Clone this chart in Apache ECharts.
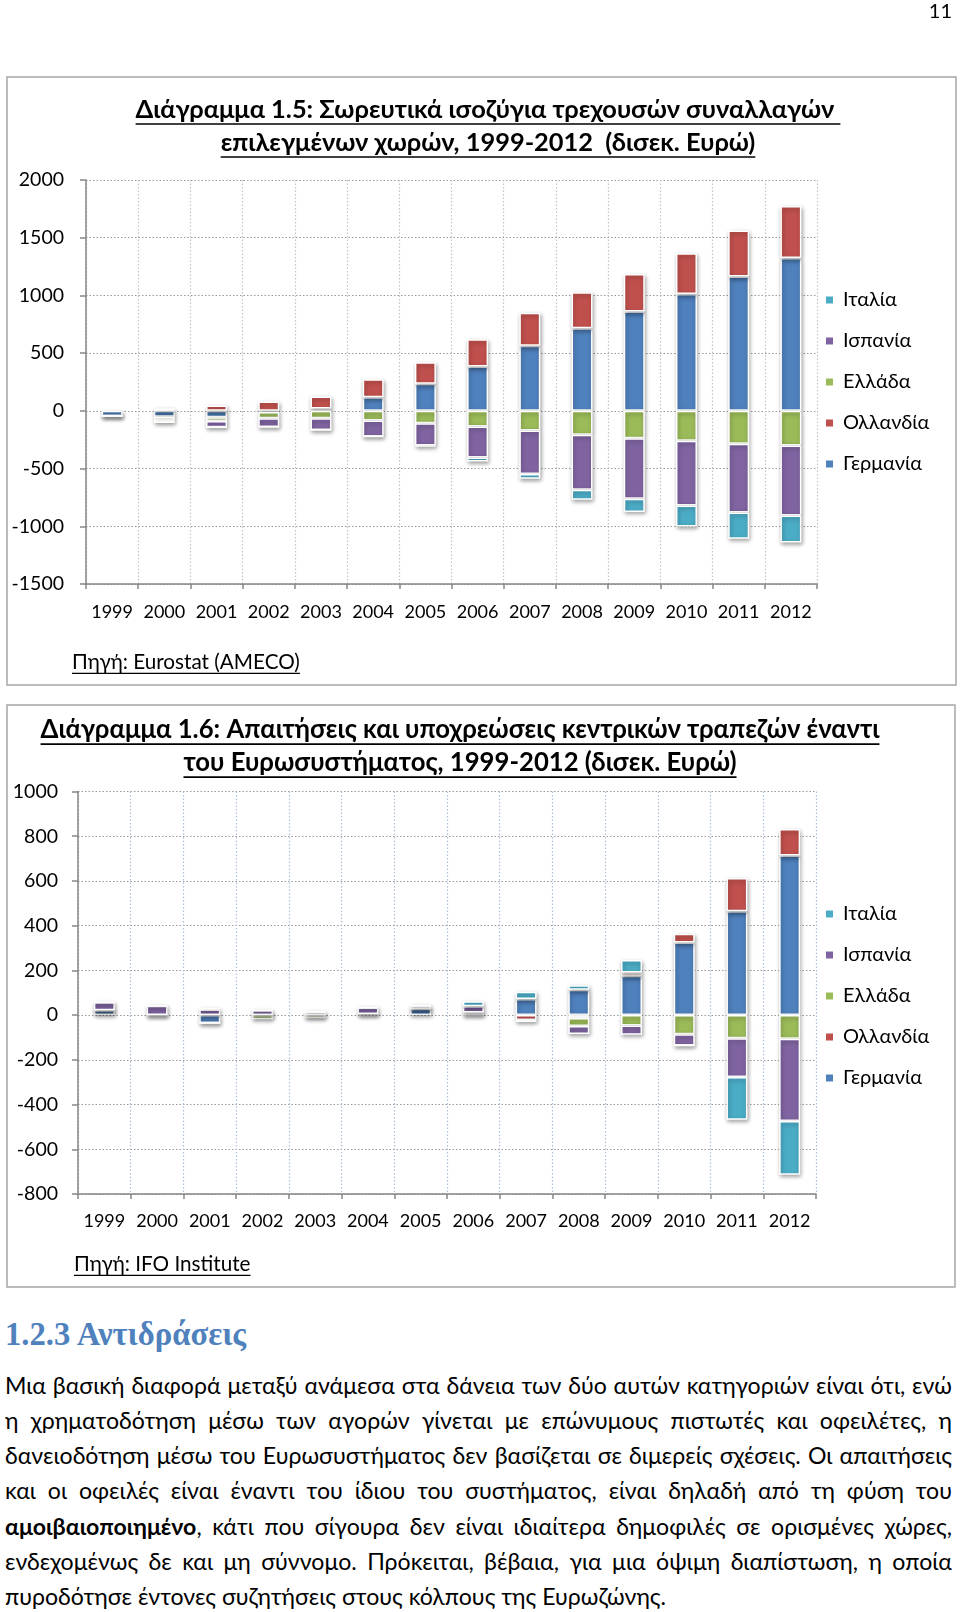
<!DOCTYPE html>
<html><head><meta charset="utf-8">
<script src="https://cdn.jsdelivr.net/npm/echarts@6/dist/echarts.min.js"></script>
<style>
html,body{margin:0;padding:0;background:#fff;}
body{width:960px;height:1612px;position:relative;overflow:hidden;font-family:Lato,'Noto Sans',sans-serif;color:#000;}
#chart{position:absolute;left:0;top:0;width:960px;height:1300px;}
#pg{position:absolute;right:8px;top:0px;font-size:20px;line-height:20px;}
#head{position:absolute;left:5px;top:1315px;font-family:'Liberation Serif','DejaVu Serif',serif;font-weight:bold;color:#4f81bd;white-space:nowrap;line-height:38px;}
.ln{position:absolute;left:5px;width:947px;white-space:nowrap;line-height:35px;text-align:justify;text-align-last:justify;}
.ln.last{text-align-last:left;}
</style></head>
<body>
<div id="chart"></div>
<div id="pg">11</div>
<div id="head">1.2.3 Αντιδράσεις</div>
<div id="para"></div>
<script>
// ---------- data ----------
const years = ['1999','2000','2001','2002','2003','2004','2005','2006','2007','2008','2009','2010','2011','2012'];
const countries = ['Γερμανία','Ολλανδία','Ελλάδα','Ισπανία','Ιταλία'];
const legendOrder = ['Ιταλία','Ισπανία','Ελλάδα','Ολλανδία','Γερμανία'];
const colors = ['#4F81BD','#C0504D','#9BBB59','#8064A2','#4BACC6'];

// Chart 1.5: cumulative current account balances (bn EUR)
const ca_Germany     = [-45,-50,-55,-10, 20,118,234,384,563,716,860,1013,1163,1325];
const ca_Netherlands = [  0, 23, 46, 81,105,156,187,237,288,312,326, 352, 399, 450];
const ca_Greece      = [  0,-30,-32,-54,-64,-84,-107,-136,-170,-208,-237,-260,-286,-300];
const ca_Spain       = [  0,-19,-54,-75,-101,-138,-193,-268,-376,-476,-525,-560,-594,-606];
const ca_Italy       = [  0,  0,  0,  0,  0,  0, -8,-35,-43,-87,-115,-182,-228,-234];
const y1Min = -1500, y1Max = 2000, y1Step = 500;

// Chart 1.6: TARGET claims / liabilities (bn EUR)
const tg_Germany     = [22,  0,-35,  0,  0,  5, 28,  0, 72,113,176,325, 464, 714];
const tg_Netherlands = [ 0,  0,  0,  0,  0,  0,  0, 12,-22,-13, 15, 39, 149, 118];
const tg_Greece      = [ 0,  0,  0,-18,-14,  0,  0,  0, -5,-36,-46,-86,-103,-106];
const tg_Spain       = [35, 42, 25, 22, 15, 29, 15, 28,  0,-36,-42,-50,-174,-368];
const tg_Italy       = [ 0,  0,  8,  0,  0,  0,  0, 22, 32, 21, 55,  0,-191,-240];
const y2Min = -800, y2Max = 1000, y2Step = 200;

const paraLines = [
 'Μια βασική διαφορά μεταξύ ανάμεσα στα δάνεια των δύο αυτών κατηγοριών είναι ότι, ενώ',
 'η χρηματοδότηση μέσω των αγορών γίνεται με επώνυμους πιστωτές και οφειλέτες, η',
 'δανειοδότηση μέσω του Ευρωσυστήματος δεν βασίζεται σε διμερείς σχέσεις. Οι απαιτήσεις',
 'και οι οφειλές είναι έναντι του ίδιου του συστήματος, είναι δηλαδή από τη φύση του',
 '<b>αμοιβαιοποιημένο</b>, κάτι που σίγουρα δεν είναι ιδιαίτερα δημοφιλές σε ορισμένες χώρες,',
 'ενδεχομένως δε και μη σύννομο. Πρόκειται, βέβαια, για μια όψιμη διαπίστωση, η οποία',
 'πυροδότησε έντονες συζητήσεις στους κόλπους της Ευρωζώνης.'
];

// ---------- helpers ----------
const FAM = "Lato, 'Noto Sans', sans-serif";
const mctx = document.createElement('canvas').getContext('2d');
function measure(font, text){ mctx.font = font; return mctx.measureText(text).width; }
function fitSize(text, weight, target){ const base=20; return base*target/measure(weight+' '+base+'px '+FAM, text); }
function ulText(text, x, y, size, weight, align){
  const font = weight+' '+size.toFixed(2)+'px '+FAM;
  const w = measure(font, text);
  const x0 = align==='center' ? x - w/2 : x;
  return [
    {type:'text', x:x, y:y, style:{text:text, font:font, fill:'#000', align:align, verticalAlign:'middle'}},
    {type:'line', shape:{x1:x0, y1:y+size*0.55, x2:x0+w, y2:y+size*0.55}, style:{stroke:'#000', lineWidth:Math.max(1,size/16)}}
  ];
}

const t1a = 'Διάγραμμα 1.5: Σωρευτικά ισοζύγια τρεχουσών συναλλαγών ';
const t1b = 'επιλεγμένων χωρών, 1999-2012  (δισεκ. Ευρώ)';
const t2a = 'Διάγραμμα 1.6: Απαιτήσεις και υποχρεώσεις κεντρικών τραπεζών έναντι';
const t2b = 'του Ευρωσυστήματος, 1999-2012 (δισεκ. Ευρώ)';
const fs1 = fitSize(t1a, 'bold', 705);
const fs2 = fitSize(t2a, 'bold', 839);
const src1 = 'Πηγή: Eurostat (AMECO)';
const src2 = 'Πηγή: IFO Institute';
const fsSrc = fitSize(src1, 'normal', 228);

const graphics = [
  {type:'rect', shape:{x:7, y:77, width:949, height:608}, style:{fill:'none', stroke:'#a6a6a6', lineWidth:1.5}},
  {type:'rect', shape:{x:7, y:705, width:948, height:582}, style:{fill:'none', stroke:'#a6a6a6', lineWidth:1.5}},
  ...ulText(t1a, 488, 110, fs1, 'bold', 'center'),
  ...ulText(t1b, 488, 143, fs1, 'bold', 'center'),
  ...ulText(t2a, 460, 730, fs2, 'bold', 'center'),
  ...ulText(t2b, 460, 763, fs2, 'bold', 'center'),
  ...ulText(src1, 72, 662, fsSrc, 'normal', 'left'),
  ...ulText(src2, 74, 1264, fsSrc, 'normal', 'left')
];

const axisGray = '#868686';
function xAxes(gi, vcolor, lm){
  return [
    {gridIndex:gi, type:'category', data:years, position:'bottom',
     axisLine:{show:false}, axisTick:{show:false},
     axisLabel:{fontFamily:FAM, fontSize:18, color:'#000', margin:lm, interval:0},
     splitLine:{show:true, interval:0, lineStyle:{color:vcolor, width:1.2, type:[1.5,2]}}},
    {gridIndex:gi, type:'category', data:years, position:'bottom',
     axisLine:{show:true, onZero:true, lineStyle:{color:axisGray, width:1.5}},
     axisTick:{show:true, length:5, interval:0, lineStyle:{color:axisGray, width:1.5}},
     axisLabel:{show:false}, splitLine:{show:false}}
  ];
}
function yAxis(gi, mn, mx, st, margin){
  return {gridIndex:gi, type:'value', min:mn, max:mx, interval:st,
    axisLine:{show:true, lineStyle:{color:axisGray, width:1.5}},
    axisTick:{show:true, length:6, lineStyle:{color:axisGray, width:1.5}},
    axisLabel:{fontFamily:FAM, fontSize:19.5, color:'#000', margin:margin, formatter:(v)=>String(v)},
    splitLine:{show:true, lineStyle:{color:'#9a9a9a', width:1.2, type:[1.5,2]}}};
}
function barSeries(name, data, color, xi, yi, stack){
  return {name:name, type:'bar', stack:stack, data:data, xAxisIndex:xi, yAxisIndex:yi,
    barWidth:21, animation:false,
    itemStyle:{color:color, borderColor:'#fff', borderWidth:1.5,
      shadowBlur:4, shadowColor:'rgba(0,0,0,0.35)', shadowOffsetX:1, shadowOffsetY:2}};
}
const data1 = [ca_Germany, ca_Netherlands, ca_Greece, ca_Spain, ca_Italy];
const data2 = [tg_Germany, tg_Netherlands, tg_Greece, tg_Spain, tg_Italy];
const series = [];
countries.forEach((c,i)=>series.push(barSeries(c, data1[i], colors[i], 0, 0, 's1')));
countries.forEach((c,i)=>series.push(barSeries(c, data2[i], colors[i], 2, 1, 's2')));

function legend(top){
  return {orient:'vertical', left:819, top:top, itemGap:21, itemWidth:9, itemHeight:9,
    icon:'rect', selectedMode:false, data:legendOrder,
    textStyle:{fontFamily:FAM, fontSize:20, color:'#000', lineHeight:20, padding:[0,0,0,4]}};
}

const chart = echarts.init(document.getElementById('chart'), null, {renderer:'canvas'});
chart.setOption({
  animation:false,
  grid:[{left:86, top:180, width:731, height:404},
        {left:78, top:791.5, width:738, height:402.5}],
  xAxis:[...xAxes(0,'#c4c4c4',19), ...xAxes(1,'#aebfd6',18)],
  yAxis:[yAxis(0, y1Min, y1Max, y1Step, 22), yAxis(1, y2Min, y2Max, y2Step, 20)],
  legend:[legend(285), legend(899)],
  series:series,
  graphic:graphics
});

// ---------- text block ----------
const headEl = document.getElementById('head');
headEl.style.fontSize = (28*243/measure("bold 28px 'Liberation Serif'", '1.2.3 Αντιδράσεις')).toFixed(2)+'px';
const lastNat = measure('20px '+FAM, paraLines[6]);
let pfs = 20*661/lastNat;
const firstNat = measure('20px '+FAM, paraLines[0]);
pfs = Math.min(pfs, 20*944/firstNat);
const para = document.getElementById('para');
paraLines.forEach((t,i)=>{
  const d = document.createElement('div');
  d.className = 'ln' + (i===paraLines.length-1 ? ' last' : '');
  d.style.top = (1385 + 35.3*i - 17.5).toFixed(1)+'px';
  d.style.fontSize = pfs.toFixed(2)+'px';
  d.innerHTML = t;
  para.appendChild(d);
});
</script>
</body></html>
